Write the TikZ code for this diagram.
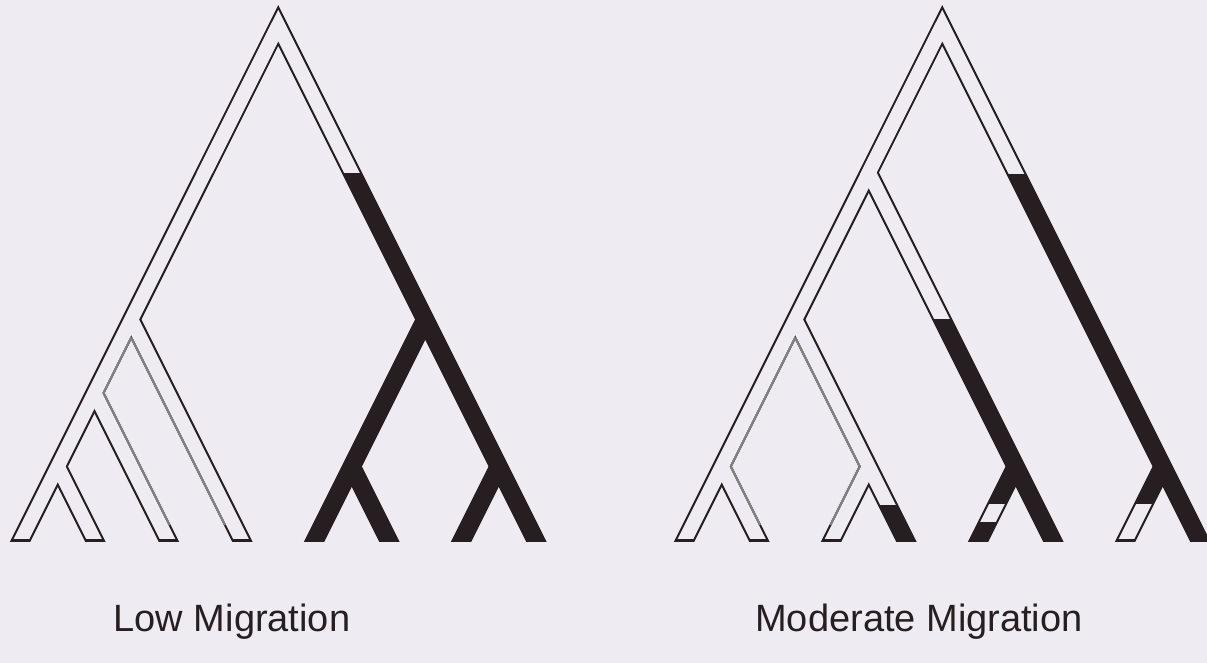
\documentclass[tikz,border=0pt]{standalone}
\usepackage{fontspec}
\setmainfont{Liberation Sans}
\usetikzlibrary{calc}

\definecolor{paper}{RGB}{238,236,242}
\definecolor{ink}{RGB}{38,30,32}

\begin{document}
\begin{tikzpicture}[
    tube/.style={ink, line width=18.3pt},
    hollow/.style={paper, line width=13.9pt},
    faint/.style={black!50, line width=2.1pt, line join=round},
    leafend/.style={shorten >=-8pt},
    captext/.style={font=\fontsize{38}{44}\selectfont, text=ink}
  ]
  \useasboundingbox (0,0) rectangle (1207pt,663pt);
  \fill[paper] (0,0) rectangle (1207pt,663pt);

  % === left tree: low migration ===
  % leaves 73.5pt apart, every branch at slope 2
  \begin{scope}[xshift=21pt, yshift=123pt, x=73.5pt, y=73.5pt]
    \coordinate (root) at (3.5,7);
    \coordinate (n14) at (1.5,3);
    \coordinate (n13) at (1,2);
    \coordinate (n12) at (0.5,1);
    \coordinate (n58) at (5.5,3);
    \coordinate (n56) at (4.5,1);
    \coordinate (n78) at (6.5,1);
    \foreach \i in {1,...,8}
      \coordinate (l\i) at (\i-1,0);

    % outlines and dark lineages
    \begin{scope}
      \clip (-1,-0.014) rectangle (8,8);
      \draw[tube, leafend, shorten <=-8pt] (l1) -- (root) -- (l8);
      \draw[tube, leafend] (n14) -- (l4);
      \draw[tube, leafend] (n13) -- (l3);
      \draw[tube, leafend] (n12) -- (l2);
      \draw[tube, leafend] (n58) -- (l5);
      \draw[tube, leafend] (n56) -- (l6);
      \draw[tube, leafend] (n78) -- (l7);
    \end{scope}

    % open lineages
    \begin{scope}
      \clip (-1,0.014) rectangle (8,8);
      \begin{scope}
        \clip (-1,5.0) rectangle (8,8);
        \draw[hollow, leafend, shorten <=-8pt] (l1) -- (root) -- (l8);
      \end{scope}
      \draw[hollow, leafend] (root) -- (l1);
      \draw[hollow, leafend] (n14) -- (l4);
      \draw[hollow, leafend] (n13) -- (l3);
      \draw[hollow, leafend] (n12) -- (l2);
    \end{scope}

    % faded edges
    \draw[faint] ($(n14)+(0,-0.2448)$) -- ($(n13)+(0.1224,0)$) -- ($(l3)+(0.0204,0.204)$);
    \draw[faint] ($(n14)+(0,-0.2448)$) -- ($(l4)+(-0.2244,0.204)$);
  \end{scope}

  % === right tree: moderate migration ===
  \begin{scope}[xshift=685pt, yshift=123pt, x=73.5pt, y=73.5pt]
    \coordinate (root) at (3.5,7);
    \coordinate (n16) at (2.5,5);
    \coordinate (n14) at (1.5,3);
    \coordinate (n12) at (0.5,1);
    \coordinate (n34) at (2.5,1);
    \coordinate (n56) at (4.5,1);
    \coordinate (n78) at (6.5,1);
    \foreach \i in {1,...,8}
      \coordinate (l\i) at (\i-1,0);

    % outlines and dark lineages
    \begin{scope}
      \clip (-1,-0.014) rectangle (8,8);
      \draw[tube, leafend, shorten <=-8pt] (l1) -- (root) -- (l8);
      \draw[tube, leafend] (n16) -- (l6);
      \draw[tube, leafend] (n14) -- (l4);
      \draw[tube, leafend] (n12) -- (l2);
      \draw[tube, leafend] (n34) -- (l3);
      \draw[tube, leafend] (n56) -- (l5);
      \draw[tube, leafend] (n78) -- (l7);
    \end{scope}

    % open lineages
    \begin{scope}
      \clip (-1,0.014) rectangle (8,8);
      \begin{scope}
        \clip (-1,4.98) rectangle (8,8);
        \draw[hollow, leafend, shorten <=-8pt] (l1) -- (root) -- (l8);
      \end{scope}
      \draw[hollow, leafend] (root) -- (l1);
      \begin{scope}
        \clip (-1,3.02) rectangle (8,8);
        \draw[hollow, leafend] (n16) -- (l6);
      \end{scope}
      \begin{scope}
        \clip (-1,0.48) rectangle (8,8);
        \draw[hollow, leafend] (n14) -- (l4);
      \end{scope}
      \draw[hollow, leafend] (n12) -- (l2);
      \draw[hollow, leafend] (n34) -- (l3);
      \begin{scope}
        \clip (-1,0.25) rectangle (8,0.48);
        \draw[hollow, leafend] (n56) -- (l5);
      \end{scope}
      \begin{scope}
        \clip (-1,0) rectangle (8,0.48);
        \draw[hollow, leafend] (n78) -- (l7);
      \end{scope}
    \end{scope}

    % faded edges
    \draw[faint] ($(n14)+(0,-0.2448)$) -- ($(n12)+(0.1224,0)$) -- ($(l2)+(0.0204,0.204)$);
    \draw[faint] ($(n14)+(0,-0.2448)$) -- ($(n34)+(-0.1224,0)$) -- ($(l3)+(-0.0204,0.204)$);
  \end{scope}

  % captions
  \node[captext, anchor=base] (lowcap) at (232pt,31pt) {Low Migration};
  \node[captext, anchor=base] (modcap) at (919pt,31pt) {Moderate Migration};
\end{tikzpicture}
\end{document}
